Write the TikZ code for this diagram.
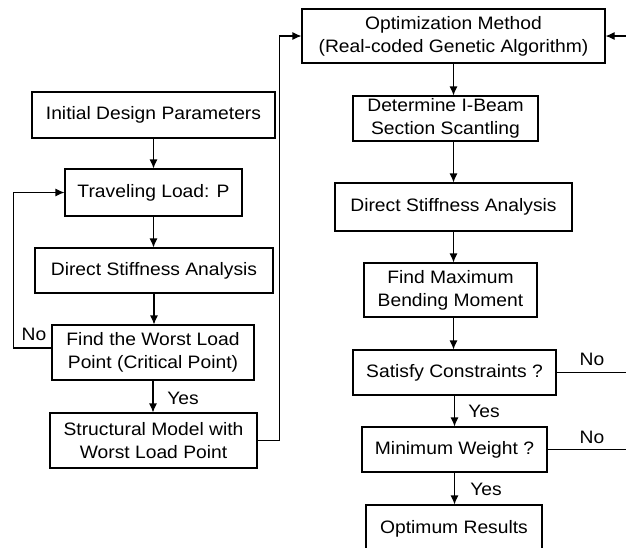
\documentclass[tikz,border=0pt]{standalone}
\usepackage{fontspec}
\setmainfont{Liberation Sans}[FakeStretch=1.07]
\usetikzlibrary{arrows.meta}
\begin{document}
\begin{tikzpicture}[x=1pt, y=-1pt,
            box/.style={draw, line width=1.1pt, inner sep=0pt, align=center, font=\fontsize{18}{23}\selectfont},
            flow/.style={draw, line width=1.1pt, -{Latex[length=9pt,width=8pt]}},
            lbl/.style={inner sep=0pt, font=\fontsize{18}{21}\selectfont}]
            \useasboundingbox (0,0) rectangle (626,547);
            \clip (0,0) rectangle (626,547);
            \node[box, minimum width=243pt, minimum height=46pt] (init) at (153.5,115) {Initial Design Parameters};
            \node[box, minimum width=177pt, minimum height=47pt] (load) at (153.5,192.5) {Traveling Load: P};
            \node[box, minimum width=238pt, minimum height=45pt] (dsa1) at (154,270.5) {Direct Stiffness Analysis};
            \node[box, minimum width=202pt, minimum height=55pt] (worst) at (153,352.5) {Find the Worst Load\\Point (Critical Point)};
            \node[box, minimum width=207pt, minimum height=55pt] (model) at (153.5,440.5) {Structural Model with\\Worst Load Point};
            \node[box, minimum width=303pt, minimum height=54pt] (opt) at (453.5,36) {Optimization Method\\(Real-coded Genetic Algorithm)};
            \node[box, minimum width=185pt, minimum height=45pt] (ibeam) at (445.5,118.5) {Determine I-Beam\\Section Scantling};
            \node[box, minimum width=237pt, minimum height=48pt] (dsa2) at (453.5,207) {Direct Stiffness Analysis};
            \node[box, minimum width=173pt, minimum height=54pt] (maxbm) at (450.5,290) {Find Maximum\\Bending Moment};
            \node[box, minimum width=203pt, minimum height=45pt] (sat) at (454.5,372.5) {Satisfy Constraints ?};
            \node[box, minimum width=185pt, minimum height=45pt] (minw) at (454.5,449.5) {Minimum Weight ?};
            \node[box, minimum width=176pt, minimum height=47pt] (opres) at (454,528.5) {Optimum Results};
            \node[lbl] (no1) at (34,334) {No};
            \node[lbl] (yes1) at (183,398) {Yes};
            \node[lbl] (no2) at (592,359) {No};
            \node[lbl] (yes2) at (484,411) {Yes};
            \node[lbl] (no3) at (592,437) {No};
            \node[lbl] (yes3) at (486,489) {Yes};
            \draw[flow] (init.south) -- (init.south |- load.north);
            \draw[flow] (load.south) -- (load.south |- dsa1.north);
            \draw[flow] (dsa1.south) -- (dsa1.south |- worst.north);
            \draw[flow] (worst.south) -- (worst.south |- model.north);
            \draw[flow] ([yshift=4.5pt]worst.west) -- ++(-38,0) |- (load.west);
            \draw[flow] (model.east) -- ++(22,0) |- (opt.west);
            \draw[flow] (opt.south) -- (opt.south |- ibeam.north);
            \draw[flow] (opt.south |- ibeam.south) -- (opt.south |- dsa2.north);
            \draw[flow] (dsa2.south) -- (dsa2.south |- maxbm.north);
            \draw[flow] (dsa2.south |- maxbm.south) -- (dsa2.south |- sat.north);
            \draw[flow] (sat.south) -- (sat.south |- minw.north);
            \draw[flow] (minw.south) -- (minw.south |- opres.north);
            \draw[flow] (sat.east) -- ++(90,0) |- (opt.east);
            \draw[line width=1.1pt] (minw.east) -- ++(99,0);
        \end{tikzpicture}
\end{document}
